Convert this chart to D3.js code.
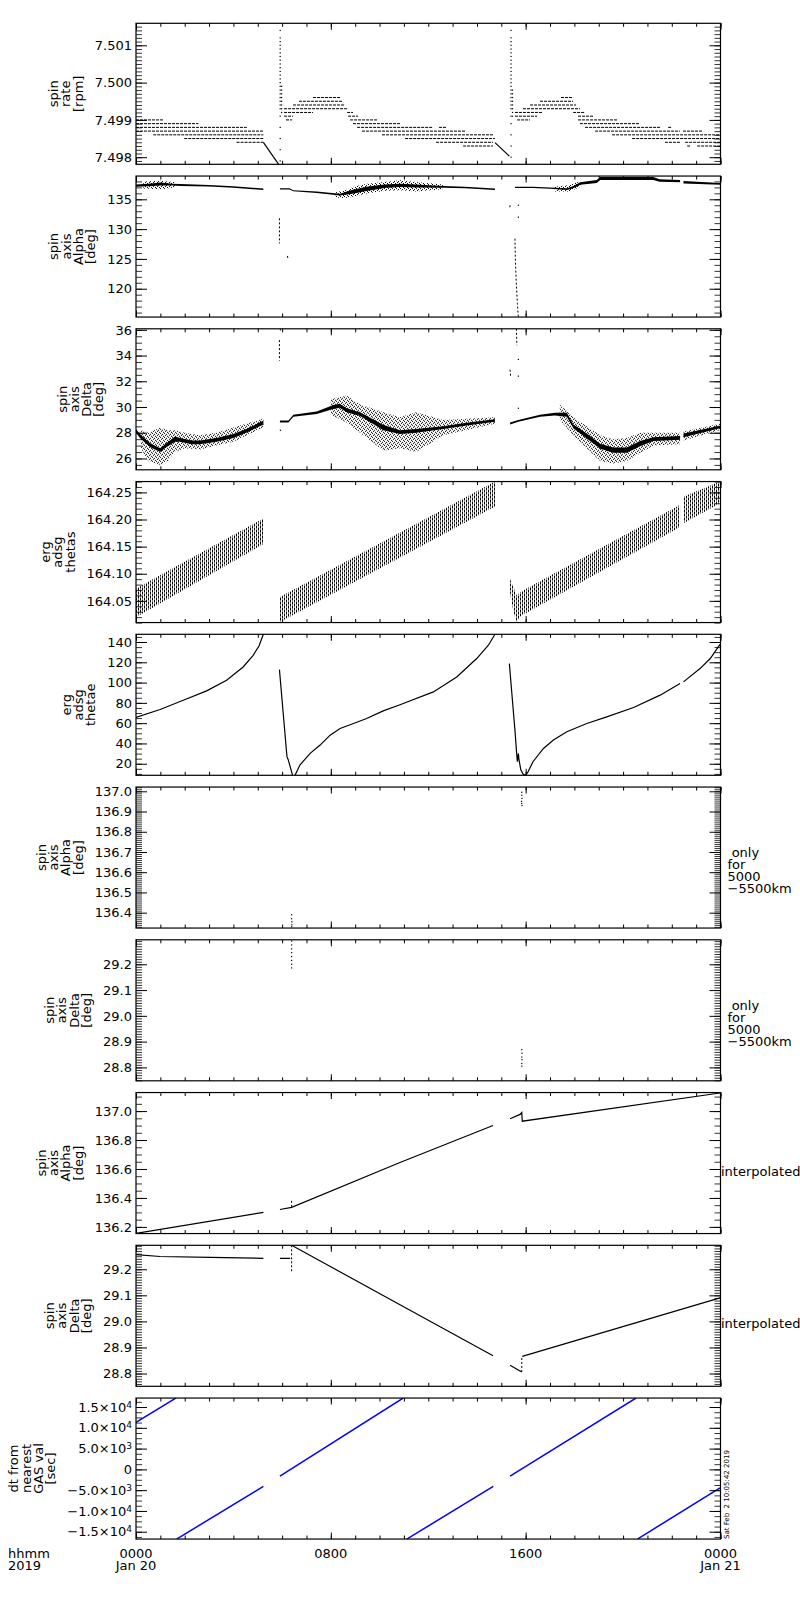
<!DOCTYPE html>
<html>
<head>
<meta charset="utf-8">
<script src="https://d3js.org/d3.v7.min.js"></script>
<style>
body { margin: 0; background: #fff; }
svg { display: block; font-family: 'DejaVu Sans', sans-serif; font-size: 13px; }
.axis { font-family: 'DejaVu Sans', sans-serif; }
.axis text { font-size: 13px; fill: #000; }
.axis line { stroke: #000; stroke-width: 1; }
.minor line { stroke-width: 0.8; }
.frame { fill: none; stroke: #000; stroke-width: 1.2; }
.trace { fill: none; stroke: #000; stroke-width: 1.2; }
.level { fill: none; stroke: #000; stroke-width: 1; stroke-dasharray: 3 1; }
.streak { fill: none; stroke: #000; stroke-width: 1; stroke-dasharray: 2 2; }
.dt { fill: none; stroke: #0000ff; stroke-width: 1.5; }
</style>
</head>
<body>
<div id="chart"></div>
<script>
// time axis, hours from 2019-01-20 00:00
const hourMajor = [0, 8, 16, 24];
const hourLabels = ['0000', '0800', '1600', '0000'];
const dayLabels = ['Jan 20', '', '', 'Jan 21'];

const panelTitles = [
    ['spin', 'rate', '[rpm]'],
    ['spin', 'axis', 'Alpha', '[deg]'],
    ['spin', 'axis', 'Delta', '[deg]'],
    ['erg', 'adsg', 'thetas'],
    ['erg', 'adsg', 'thetae'],
    ['spin', 'axis', 'Alpha', '[deg]'],
    ['spin', 'axis', 'Delta', '[deg]'],
    ['spin', 'axis', 'Alpha', '[deg]'],
    ['spin', 'axis', 'Delta', '[deg]'],
    ['dt from', 'nearest', 'GAS val', '[sec]']
];
const panelRanges = [
    [7.49781, 7.50159], [115.25, 138.9], [25.12, 36.08], [164.010, 164.270], [8.6, 147.6],
    [136.324, 137.021], [28.748, 29.295], [136.154, 137.128], [28.751, 29.292], [-16760, 17160]
];
const majorSteps = [0.001, 5, 2, 0.05, 20, 0.1, 0.1, 0.2, 0.1, 5000];
const minorSteps = [0.0001, 1, 0.5, 0.01, 5, 0.01, 0.01, 0.05, 0.01, 1250];
const tickFormats = ['.3f', 'd', 'd', '.2f', 'd', '.1f', '.1f', '.1f', '.1f', 'pow'];
const sideNotes = [[], [], [], [], [],
    [' only', 'for', '5000', '\u22125500km'], [' only', 'for', '5000', '\u22125500km'],
    ['interpolated'], ['interpolated'], []];

// spin rate: quantised plateaus [rpm, fromHour, toHour]
const rateSteps = [
    [7.4990, 0, 1.12], [7.4989, 0, 2.56], [7.4988, 0, 4.55], [7.4987, 0, 5.23],
    [7.4986, 0.71, 5.23], [7.4985, 1.98, 5.23], [7.4984, 4.13, 5.23],
    [7.4996, 7.27, 8.38], [7.4995, 6.69, 8.50], [7.4994, 6.45, 8.58], [7.4993, 6.08, 8.71],
    [7.4992, 6.08, 7.27], [7.4992, 8.67, 8.91], [7.4991, 6.08, 6.45], [7.4991, 8.71, 9.12],
    [7.4990, 6.16, 6.41], [7.4990, 8.79, 9.90], [7.4989, 8.91, 10.84],
    [7.4988, 9.08, 12.16], [7.4988, 12.44, 12.77], [7.4987, 9.28, 13.51],
    [7.4986, 10.10, 14.66], [7.4985, 11.05, 14.74], [7.4984, 12.32, 14.66], [7.4983, 13.43, 14.66],
    [7.4996, 17.45, 17.95], [7.4995, 16.59, 17.95], [7.4994, 16.18, 18.07], [7.4993, 15.89, 18.23],
    [7.4992, 15.56, 16.71], [7.4992, 17.95, 18.44], [7.4991, 15.56, 16.47], [7.4991, 18.15, 18.77],
    [7.4990, 15.65, 16.18], [7.4990, 18.15, 19.79], [7.4989, 18.23, 20.70],
    [7.4988, 18.44, 21.52], [7.4988, 21.85, 22.01], [7.4987, 18.85, 22.34], [7.4987, 22.46, 23.24],
    [7.4986, 19.55, 23.98], [7.4985, 20.37, 23.98], [7.4984, 21.72, 22.34], [7.4984, 22.55, 23.98],
    [7.4983, 22.63, 22.75], [7.4983, 23.04, 23.98]
];
const rateRamps = [
    [[5.23, 7.4984], [5.92, 7.49775]],
    [[14.74, 7.49839], [15.33, 7.49803]]
];
// spike columns [hour, [rpm values]]
const rateSpikes = [
    [5.92, [7.5014, 7.5012, 7.5011, 7.5010, 7.5009, 7.5008, 7.5007, 7.5006, 7.5005, 7.5004, 7.5003,
        7.5002, 7.5001, 7.5000, 7.4999, 7.4998, 7.4997, 7.4996, 7.4995, 7.4994, 7.4993, 7.4991,
        7.4988, 7.4985, 7.4982, 7.4979]],
    [5.98, [7.4999, 7.4998, 7.4997, 7.4996, 7.4995, 7.4994, 7.4993, 7.4992]],
    [15.40, [7.5014, 7.5012, 7.5011, 7.5010, 7.5009, 7.5008, 7.5007, 7.5006, 7.5005, 7.5004, 7.5003,
        7.5002, 7.5001, 7.5000, 7.4999, 7.4998, 7.4997, 7.4996, 7.4995, 7.4994, 7.4993, 7.4991,
        7.4989, 7.4986, 7.4983, 7.4980]],
    [15.46, [7.4998, 7.4997, 7.4996, 7.4995, 7.4994, 7.4993, 7.4992, 7.4991]]
];

// spin axis alpha [hour, low, high]
const alphaCore = [
    [[0, 137.1, 137.5], [0.5, 137.2, 137.6], [1.0, 137.3, 137.8], [1.5, 137.3, 137.6], [1.81, 137.25, 137.55],
        [3.0, 137.15, 137.4], [4.0, 136.95, 137.2], [5.23, 136.55, 136.8]],
    [[5.91, 136.65, 136.85], [6.3, 136.65, 136.85], [6.46, 136.35, 136.5], [7.42, 136.05, 136.3],
        [8.37, 135.65, 135.95], [8.9, 135.95, 136.6], [9.47, 136.4, 137.1], [10.2, 136.9, 137.5],
        [10.84, 137.05, 137.6], [11.5, 137.0, 137.5], [12.62, 136.95, 137.25], [13.5, 136.85, 137.1],
        [14.74, 136.55, 136.8]],
    [[15.56, 136.9, 137.1], [16.3, 136.9, 137.1], [17.0, 136.75, 137.0], [17.7, 136.55, 136.85],
        [17.96, 136.85, 137.25], [18.24, 137.45, 137.85], [18.92, 137.75, 138.25], [19.06, 138.25, 138.75],
        [21.24, 138.25, 138.75], [21.5, 137.95, 138.35], [22.34, 137.85, 138.25]],
    [[22.48, 137.65, 138.05], [23.98, 137.45, 137.75]]
];
const alphaSpread = [
    [[0.3, 136.8, 138.0], [1.0, 136.7, 138.1], [1.6, 137.0, 137.9]],
    [[8.2, 135.3, 136.2], [8.6, 135.2, 136.5], [9.0, 135.5, 137.2], [9.5, 136.0, 137.6],
        [10.2, 136.4, 137.9], [10.84, 136.5, 138.2], [11.5, 136.3, 137.9], [12.6, 136.7, 137.5]],
    [[17.2, 136.3, 137.1], [17.8, 136.3, 137.4], [18.3, 137.2, 138.1]]
];
const alphaStreaks = [
    [[5.89, 131.8], [5.89, 127.6]],
    [[6.22, 125.5], [6.24, 125.0]],
    [[15.36, 134.0], [15.34, 133.4]],
    [[15.56, 128.4], [15.58, 124.5], [15.62, 120.5], [15.66, 117.5], [15.70, 115.2]]
];
const alphaStrays = [[15.7, 134.0], [15.7, 132.0]];

// spin axis delta [hour, low, high]
const deltaCore = [
    [[0, 28.0, 28.3], [0.16, 27.6, 27.9], [0.57, 26.9, 27.2], [0.99, 26.5, 26.8], [1.26, 26.9, 27.2],
        [1.6, 27.3, 27.7], [1.81, 27.3, 27.6], [2.3, 27.1, 27.4], [2.63, 27.1, 27.4], [3.3, 27.3, 27.6],
        [4.0, 27.6, 27.9], [4.6, 28.05, 28.35], [5.23, 28.65, 28.95]],
    [[5.91, 28.8, 28.95], [6.26, 28.8, 28.95], [6.46, 29.25, 29.4], [7.42, 29.45, 29.65],
        [8.1, 29.85, 30.15], [8.37, 29.95, 30.25], [8.65, 29.6, 29.9], [9.2, 29.3, 29.6],
        [10.16, 28.2, 28.6], [10.84, 27.9, 28.2], [11.5, 28.0, 28.3], [12.62, 28.3, 28.5],
        [13.5, 28.55, 28.75], [14.74, 28.85, 29.05]],
    [[15.36, 28.65, 28.8], [15.7, 28.85, 29.0], [16.59, 29.25, 29.4], [17.2, 29.35, 29.55],
        [17.69, 29.25, 29.55], [17.96, 28.35, 28.65], [18.51, 27.55, 27.95], [19.06, 26.75, 27.15],
        [19.6, 26.45, 26.85], [20.15, 26.45, 26.85], [20.7, 26.95, 27.35], [21.24, 27.35, 27.65],
        [22.34, 27.45, 27.75]],
    [[22.48, 27.65, 27.95], [23.98, 28.35, 28.55]]
];
const deltaSpread = [
    [[0.2, 26.8, 28.2], [0.5, 25.8, 28.0], [0.99, 25.5, 28.4], [1.3, 25.8, 28.2], [1.6, 26.5, 28.2],
        [2.0, 26.8, 28.0], [2.63, 26.7, 27.8], [3.3, 27.0, 28.0], [4.0, 27.3, 28.4], [5.23, 28.4, 29.1]],
    [[8.0, 29.4, 30.6], [8.65, 28.8, 30.9], [9.2, 28.0, 30.2], [10.16, 26.6, 29.6], [10.84, 26.8, 29.2],
        [11.5, 26.5, 29.6], [12.62, 27.8, 29.0], [14.74, 28.7, 29.2]],
    [[17.4, 29.0, 30.2], [17.96, 27.8, 29.2], [18.51, 26.8, 28.5], [19.06, 25.8, 27.8], [19.6, 25.6, 27.5],
        [20.15, 25.8, 27.6], [20.7, 26.4, 28.0], [21.24, 27.0, 28.0], [22.34, 27.1, 28.0]],
    [[22.48, 27.4, 28.1], [23.98, 28.2, 28.7]]
];
const deltaStreaks = [
    [[5.89, 35.2], [5.89, 33.6]],
    [[15.62, 36.08], [15.64, 34.8]],
    [[15.36, 32.9], [15.38, 32.4]]
];
const deltaStrays = [[5.93, 28.2], [5.93, 36.0], [15.7, 33.7], [15.7, 32.4], [15.7, 29.9]];

// erg thetas band [hour, low, high]
const thetasBand = [
    [[0, 164.020, 164.073], [5.23, 164.155, 164.202]],
    [[5.91, 164.011, 164.057], [14.74, 164.224, 164.270]],
    [[15.36, 164.065, 164.090], [15.5, 164.030, 164.075], [15.63, 164.011, 164.060],
        [15.8, 164.022, 164.067], [22.34, 164.186, 164.227]],
    [[22.48, 164.193, 164.242], [23.98, 164.230, 164.270]]
];

// erg thetae [hour, deg]
const thetaeLine = [
    [[0, 65.6], [0.99, 73.5], [1.94, 82.6], [2.9, 91.8], [3.72, 102.3], [4.4, 115.4], [4.81, 126.9],
        [5.05, 136.0], [5.23, 147.6]],
    [[5.89, 112.8], [6.18, 32.0], [6.2, 27.0], [6.25, 24.0], [6.43, 8.6]],
    [[6.53, 8.6], [6.73, 18.7], [7.15, 30.2], [7.56, 38.4], [7.97, 48.2], [8.38, 54.8], [8.93, 59.7],
        [9.47, 64.6], [10.15, 72.1], [10.84, 78.2], [12.21, 90.8], [13.17, 105.6], [13.99, 123.7],
        [14.47, 136.8], [14.74, 147.6]],
    [[15.33, 118.7], [15.5, 70.0], [15.56, 53.1], [15.63, 30.2], [15.66, 22.0], [15.7, 30.0],
        [15.72, 25.0], [15.8, 14.0], [15.9, 9.6], [16.0, 8.6]],
    [[16.0, 8.6], [16.1, 12.1], [16.3, 22.0], [16.73, 35.1], [17.14, 43.3], [17.69, 51.5],
        [18.51, 59.7], [19.33, 66.2], [20.43, 75.4], [21.52, 87.6], [22.34, 99.1]],
    [[22.48, 100.7], [23.16, 113.8], [23.58, 123.7], [23.98, 137.7]]
];

// 5000-5500 km only [hour, value]
const alphaNear = [[6.39, 136.39], [6.39, 136.37], [6.40, 136.355], [6.40, 136.34], [6.39, 136.33],
    [15.84, 136.995], [15.84, 136.98], [15.85, 136.965], [15.83, 136.95], [15.84, 136.94], [15.85, 136.93]];
const deltaNear = [[6.39, 29.29], [6.39, 29.275], [6.39, 29.26], [6.39, 29.245], [6.39, 29.23],
    [6.39, 29.215], [6.39, 29.20], [6.39, 29.186],
    [15.84, 28.869], [15.85, 28.855], [15.84, 28.84], [15.85, 28.83], [15.84, 28.815], [15.84, 28.805]];

// interpolated [hour, value]
const alphaInterp = [
    [[0, 136.155], [5.23, 136.30]],
    [[5.91, 136.32], [6.39, 136.335], [10.84, 136.645], [14.66, 136.90]],
    [[15.36, 136.947], [15.77, 136.977], [15.84, 136.99], [15.86, 136.93], [23.98, 137.125]]
];
const alphaInterpMarks = [[[6.39, 136.38], [6.39, 136.33]]];
const deltaInterp = [
    [[0, 29.256], [0.99, 29.249], [3.04, 29.246], [5.23, 29.242]],
    [[5.91, 29.242], [6.33, 29.242]],
    [[6.39, 29.292], [10.84, 29.064], [14.66, 28.868]],
    [[15.36, 28.832], [15.84, 28.806]],
    [[15.86, 28.866], [23.98, 29.09]]
];
const deltaInterpMarks = [[[6.39, 29.292], [6.39, 29.185]], [[15.84, 28.806], [15.84, 28.866]]];

// dt from nearest GAS value [hour, sec]
const dtLine = [
    [[0, 11300], [1.65, 17200]],
    [[1.67, -16760], [5.23, -4100]],
    [[5.91, -1610], [10.97, 17160]],
    [[11.12, -16760], [14.67, -4100]],
    [[15.36, -1610], [20.53, 17160]],
    [[20.59, -16760], [23.98, -4470]]
];

const margin = { left: 136, top: 23.3 };
const plotWidth = 584.5;
const plotHeight = 141;
const pitch = 152.75;

const svg = d3.select('#chart')
    .append('svg')
    .attr('width', 800)
    .attr('height', 1600);

const defs = svg.append('defs');
defs.append('clipPath').attr('id', 'plotClip')
    .append('rect').attr('width', plotWidth).attr('height', plotHeight);

// dense hatch for thetas band
const hatch = defs.append('pattern').attr('id', 'hatch')
    .attr('patternUnits', 'userSpaceOnUse').attr('width', 4).attr('height', 4);
[[0, 0, 1, 3], [2, 2, 1, 2], [2, 0, 1, 1]].forEach(r => hatch.append('rect')
    .attr('x', r[0]).attr('y', r[1]).attr('width', r[2]).attr('height', r[3]));

// speckle for scattered attitude values
const speckle = defs.append('pattern').attr('id', 'speckle')
    .attr('patternUnits', 'userSpaceOnUse').attr('width', 4).attr('height', 4);
[[0, 0], [2, 1], [1, 2], [3, 3]].forEach(r => speckle.append('rect')
    .attr('x', r[0]).attr('y', r[1]).attr('width', 1).attr('height', 1));

const x = d3.scaleLinear().domain([0, 24]).range([0, plotWidth]);

const stepTicks = (domain, step) => {
    const lo = Math.ceil(domain[0] / step - 1e-6);
    const hi = Math.floor(domain[1] / step + 1e-6);
    return d3.range(lo, hi + 1).map(k => +(k * step).toFixed(6));
};

// helpers for marks
const dots = (plot, y, pts) => plot.append('g').selectAll('rect').data(pts).join('rect')
    .attr('x', d => x(d[0]) - 0.6).attr('y', d => y(d[1]) - 0.6)
    .attr('width', 1.2).attr('height', 1.2);
const paths = (plot, y, segs, cls) => plot.append('g').selectAll('path').data(segs).join('path')
    .attr('class', cls)
    .attr('d', d3.line().x(d => x(d[0])).y(d => y(d[1])));
const bands = (plot, y, segs, fill) => plot.append('g').selectAll('path').data(segs).join('path')
    .attr('fill', fill)
    .attr('d', d3.area().x(d => x(d[0])).y0(d => y(d[1])).y1(d => y(d[2])));

const drawers = [
    (plot, y) => {
        plot.append('g').selectAll('line').data(rateSteps).join('line')
            .attr('class', 'level')
            .attr('x1', d => x(d[1])).attr('x2', d => x(d[2]))
            .attr('y1', d => y(d[0])).attr('y2', d => y(d[0]));
        paths(plot, y, rateRamps, 'trace');
        dots(plot, y, rateSpikes.flatMap(c => c[1].map(v => [c[0], v])));
    },
    (plot, y) => {
        bands(plot, y, alphaSpread, 'url(#speckle)');
        bands(plot, y, alphaCore, '#000');
        paths(plot, y, alphaStreaks, 'streak');
        dots(plot, y, alphaStrays);
    },
    (plot, y) => {
        bands(plot, y, deltaSpread, 'url(#speckle)');
        bands(plot, y, deltaCore, '#000');
        paths(plot, y, deltaStreaks, 'streak');
        dots(plot, y, deltaStrays);
    },
    (plot, y) => {
        bands(plot, y, thetasBand, 'url(#hatch)');
    },
    (plot, y) => {
        paths(plot, y, thetaeLine, 'trace');
    },
    (plot, y) => {
        dots(plot, y, alphaNear);
    },
    (plot, y) => {
        dots(plot, y, deltaNear);
    },
    (plot, y) => {
        paths(plot, y, alphaInterp, 'trace');
        paths(plot, y, alphaInterpMarks, 'streak');
    },
    (plot, y) => {
        paths(plot, y, deltaInterp, 'trace');
        paths(plot, y, deltaInterpMarks, 'streak');
    },
    (plot, y) => {
        paths(plot, y, dtLine, 'dt');
    }
];

const powLabel = function(d) {
    const t = d3.select(this).text(null);
    if (d === 0) {
        t.text('0');
        return;
    }
    const e = Math.floor(Math.log10(Math.abs(d)));
    const m = d / Math.pow(10, e);
    t.append('tspan').text((m < 0 ? '\u2212' : '') + Math.abs(m).toFixed(1) + '\u00d710');
    t.append('tspan').attr('dy', '-0.45em').style('font-size', '9px').text(e);
};

panelTitles.forEach((title, i) => {
    const domain = panelRanges[i];
    const g = svg.append('g')
        .attr('transform', `translate(${margin.left}, ${margin.top + i * pitch})`);
    const y = d3.scaleLinear().domain(domain).range([plotHeight, 0]);

    const plot = g.append('g').attr('clip-path', 'url(#plotClip)');
    drawers[i](plot, y);

    const minorY = stepTicks(domain, minorSteps[i]);
    const majorY = stepTicks(domain, majorSteps[i]);
    const noDomain = a => a.select('.domain').remove();

    // y axes, ticks pointing inward
    g.append('g').attr('class', 'axis minor')
        .call(d3.axisLeft(y).tickValues(minorY).tickSize(-6).tickFormat(''))
        .call(noDomain);
    const fmt = tickFormats[i] === 'pow' ? (d => d) : d3.format(tickFormats[i]);
    const yLabels = g.append('g').attr('class', 'axis')
        .call(d3.axisLeft(y).tickValues(majorY).tickSize(-11).tickPadding(4).tickFormat(fmt))
        .call(noDomain);
    if (tickFormats[i] === 'pow') yLabels.selectAll('text').each(powLabel);

    g.append('g').attr('class', 'axis minor')
        .attr('transform', `translate(${plotWidth}, 0)`)
        .call(d3.axisRight(y).tickValues(minorY).tickSize(-6).tickFormat(''))
        .call(noDomain);
    g.append('g').attr('class', 'axis')
        .attr('transform', `translate(${plotWidth}, 0)`)
        .call(d3.axisRight(y).tickValues(majorY).tickSize(-11).tickFormat(''))
        .call(noDomain);

    // time ticks top and bottom
    [[d3.axisTop, 0], [d3.axisBottom, plotHeight]].forEach(([axis, ty]) => {
        g.append('g').attr('class', 'axis')
            .attr('transform', `translate(0, ${ty})`)
            .call(axis(x).tickValues(d3.range(0, 25)).tickSize(-3.5).tickFormat(''))
            .call(noDomain);
        g.append('g').attr('class', 'axis')
            .attr('transform', `translate(0, ${ty})`)
            .call(axis(x).tickValues(hourMajor).tickSize(-6.5).tickFormat(''))
            .call(noDomain);
    });

    g.append('rect').attr('class', 'frame')
        .attr('width', plotWidth).attr('height', plotHeight);

    // stacked vertical title, left of the tick labels
    let labelWidth = 0;
    yLabels.selectAll('text').each(function() {
        labelWidth = Math.max(labelWidth, this.getComputedTextLength());
    });
    const lastBase = -4 - labelWidth - 12;
    title.forEach((line, j) => {
        const bx = lastBase - (title.length - 1 - j) * 12.3;
        g.append('text')
            .attr('transform', `translate(${bx}, ${plotHeight / 2}) rotate(-90)`)
            .attr('text-anchor', 'middle')
            .text(line);
    });

    // notes on the right
    const notes = sideNotes[i];
    if (notes.length === 1) {
        g.append('text').attr('x', plotWidth + 0.5).attr('y', 83).text(notes[0]);
    } else {
        notes.forEach((line, j) => {
            g.append('text')
                .attr('x', plotWidth + 7)
                .attr('y', 70 + j * 12)
                .style('white-space', 'pre')
                .text(line);
        });
    }
});

// time labels under the last panel
const bottom = margin.top + 9 * pitch + plotHeight;
hourMajor.forEach((h, i) => {
    svg.append('text').attr('x', margin.left + x(h)).attr('y', bottom + 19)
        .attr('text-anchor', 'middle').text(hourLabels[i]);
    svg.append('text').attr('x', margin.left + x(h)).attr('y', bottom + 31)
        .attr('text-anchor', 'middle').text(dayLabels[i]);
});
svg.append('text').attr('x', 8).attr('y', bottom + 19).text('hhmm');
svg.append('text').attr('x', 8).attr('y', bottom + 31).text('2019');

// plot timestamp
svg.append('text')
    .attr('transform', `translate(${margin.left + plotWidth + 8}, ${bottom}) rotate(-90)`)
    .attr('font-size', 7)
    .attr('textLength', 89)
    .attr('lengthAdjust', 'spacingAndGlyphs')
    .style('white-space', 'pre')
    .text('Sat Feb  2 10:05:42 2019');
</script>
</body>
</html>
